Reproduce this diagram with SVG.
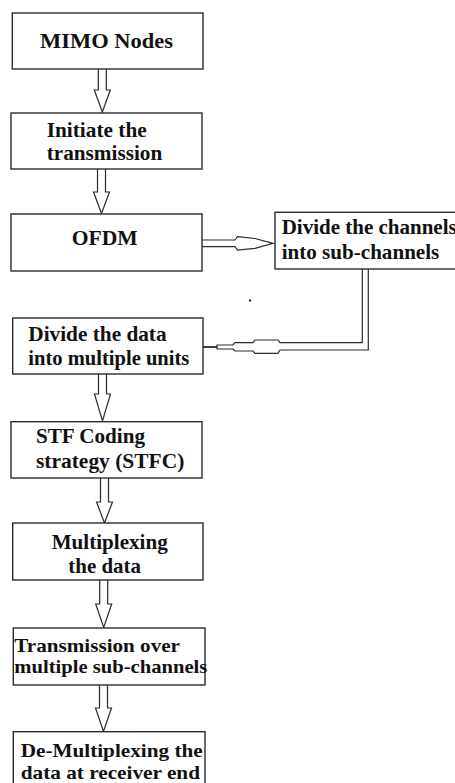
<svg xmlns="http://www.w3.org/2000/svg" width="455" height="783" viewBox="0 0 455 783">
<style>
  .box { fill: #ffffff; stroke: #2b2b2b; stroke-width: 1.4; }
  .t { font-family: "Liberation Serif", "Times New Roman", serif; font-weight: bold; font-size: 21px; fill: #111111; }
  .s { font-size: 19px; }
  .arr { fill: #ffffff; stroke: #2b2b2b; stroke-width: 1.2; stroke-linejoin: miter; }
</style>
<rect x="0" y="0" width="455" height="783" fill="#ffffff"/>

<g id="connectors">
  <path class="arr" d="M98.3,69 V90 H94.3 L102.3,112 L110.3,90 H106.3 V69"/>
  <path class="arr" d="M97.5,169 V192 H93.5 L101.5,213.5 L109.5,192 H105.5 V169"/>
  <path class="arr" d="M98.5,374 V394 H94.5 L102.5,421 L110.5,394 H106.5 V374"/>
  <path class="arr" d="M100.5,478 V502 H96.5 L104.5,523 L112.5,502 H108.5 V478"/>
  <path class="arr" d="M99.7,580 V604 H95.7 L103.7,627.5 L111.7,604 H107.7 V580"/>
  <path class="arr" d="M99.5,685 V708 H95.5 L103.5,731.5 L111.5,708 H107.5 V685"/>
  <path class="arr" d="M202,240 H235 L237.5,236.7 L255,238.5 L273,243.3 L255,248.3 L237.5,250 L235,246.7 H202"/>
  <path class="arr" d="M362.3,269 V342.7 H280 L278,340 H255 L253,342.7 H235 L233,345 H217 V349 H233 L235,351 H253 L255,353.3 H278 L280,350 H368.3 V269"/>
  <line x1="198" y1="347" x2="217" y2="347" stroke="#111" stroke-width="1.6"/>
  <rect x="249" y="299.5" width="2" height="2" fill="#111"/>
</g>

<g id="n1">
  <rect class="box" x="12.3" y="13" width="190.7" height="56"/>
  <text class="t" x="40" y="48.3" font-size="22" textLength="133" lengthAdjust="spacingAndGlyphs">MIMO Nodes</text>
</g>
<g id="n2">
  <rect class="box" x="11" y="113" width="191" height="56"/>
  <text class="t" x="46.7" y="136.7" textLength="100" lengthAdjust="spacingAndGlyphs">Initiate the</text>
  <text class="t" x="46.7" y="160" textLength="115.6" lengthAdjust="spacingAndGlyphs">transmission</text>
</g>
<g id="n3">
  <rect class="box" x="11" y="214" width="191" height="57"/>
  <text class="t" x="71.7" y="245.3" textLength="66" lengthAdjust="spacingAndGlyphs">OFDM</text>
</g>
<g id="n4">
  <rect class="box" x="275" y="212.3" width="200" height="56.7"/>
  <text class="t" x="281.7" y="234.3">Divide the channels</text>
  <text class="t" x="281.7" y="259.3" textLength="157.6" lengthAdjust="spacingAndGlyphs">into sub-channels</text>
</g>
<g id="n5">
  <rect class="box" x="12.7" y="318" width="190.3" height="56"/>
  <text class="t" x="28.3" y="340.7" textLength="138.3" lengthAdjust="spacingAndGlyphs">Divide the data</text>
  <text class="t" x="28.3" y="365" textLength="161" lengthAdjust="spacingAndGlyphs">into multiple units</text>
</g>
<g id="n6">
  <rect class="box" x="11" y="421.7" width="191" height="56.3"/>
  <text class="t" x="36" y="443.3" textLength="109" lengthAdjust="spacingAndGlyphs">STF Coding</text>
  <text class="t" x="36" y="467.5" textLength="148.3" lengthAdjust="spacingAndGlyphs">strategy (STFC)</text>
</g>
<g id="n7">
  <rect class="box" x="12.7" y="523" width="190.3" height="57"/>
  <text class="t" x="51.7" y="549.3" textLength="116" lengthAdjust="spacingAndGlyphs">Multiplexing</text>
  <text class="t" x="68.3" y="572.7" textLength="72.7" lengthAdjust="spacingAndGlyphs">the data</text>
</g>
<g id="n8">
  <rect class="box" x="13.3" y="628" width="191.7" height="57"/>
  <text class="t s" x="14.3" y="651.7" textLength="165.7" lengthAdjust="spacingAndGlyphs">Transmission over</text>
  <text class="t s" x="14.3" y="673" textLength="193" lengthAdjust="spacingAndGlyphs">multiple sub-channels</text>
</g>
<g id="n9">
  <rect class="box" x="13.3" y="731.7" width="191.7" height="60"/>
  <text class="t s" x="20.7" y="756.7" textLength="182" lengthAdjust="spacingAndGlyphs">De-Multiplexing the</text>
  <text class="t s" x="20.7" y="778.5" textLength="179.3" lengthAdjust="spacingAndGlyphs">data at receiver end</text>
</g>
</svg>
